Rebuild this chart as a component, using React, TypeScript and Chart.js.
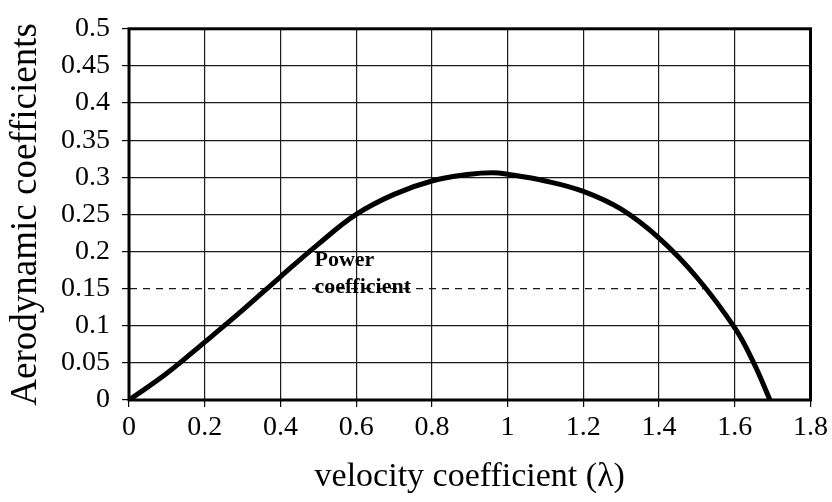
import React, { useEffect, useRef } from "react";
import { Chart, registerables } from "chart.js";

Chart.register(...registerables);

const lambdaValues = [0, 0.1, 0.2, 0.3, 0.4, 0.5, 0.6, 0.7, 0.8, 0.9, 0.96, 1.0, 1.1, 1.2, 1.3, 1.4, 1.5, 1.6, 1.65, 1.693];
const powerCoefficient = [0, 0.036, 0.078, 0.121, 0.166, 0.21, 0.25, 0.277, 0.295, 0.304, 0.306, 0.304, 0.295, 0.281, 0.257, 0.218, 0.165, 0.097, 0.05, 0];
const xTickLabels = ["0", "0.2", "0.4", "0.6", "0.8", "1", "1.2", "1.4", "1.6", "1.8"];
const yTickLabels = ["0", "0.05", "0.1", "0.15", "0.2", "0.25", "0.3", "0.35", "0.4", "0.45", "0.5"];
const xTitle = "velocity coefficient (λ)";
const yTitle = "Aerodynamic coefficients";
const annotationLines = ["Power", "coefficient"];
const annotationAt = { x: 0.49, y: 0.18 };

const FONT = "'Liberation Serif', 'Times New Roman', serif";

const framePlugin = {
  id: "frameAndLabel",
  afterDatasetsDraw(chart: any) {
    const { ctx, chartArea, scales } = chart;
    ctx.save();
    ctx.strokeStyle = "#000";
    ctx.lineWidth = 3;
    ctx.strokeRect(chartArea.left, chartArea.top, chartArea.right - chartArea.left, chartArea.bottom - chartArea.top);
    const px = scales.x.getPixelForValue(annotationAt.x);
    const py = scales.y.getPixelForValue(annotationAt.y);
    ctx.fillStyle = "#000";
    ctx.font = "bold 22px " + FONT;
    ctx.textAlign = "left";
    ctx.textBaseline = "alphabetic";
    annotationLines.forEach((t, i) => ctx.fillText(t, px, py + i * 27));
    ctx.restore();
  },
};

export default function App() {
  const ref = useRef<HTMLCanvasElement | null>(null);
  useEffect(() => {
    if (!ref.current) return;
    const chart = new Chart(ref.current, {
      type: "line",
      data: {
        datasets: [
          {
            label: "Power coefficient",
            data: lambdaValues.map((x, i) => ({ x, y: powerCoefficient[i] })),
            borderColor: "#000",
            borderWidth: 5,
            pointRadius: 0,
            tension: 0.4,
            fill: false,
          },
        ],
      },
      options: {
        animation: false,
        responsive: false,
        devicePixelRatio: 1,
        layout: { padding: { top: 21, right: 19, left: 0, bottom: 0 } },
        plugins: { legend: { display: false }, tooltip: { enabled: false } },
        scales: {
          x: {
            type: "linear",
            min: 0,
            max: 1.8,
            afterFit: (s: any) => { s.height = 102; },
            ticks: {
              stepSize: 0.2,
              color: "#000",
              font: { family: FONT, size: 28 },
              padding: 4,
              maxRotation: 0,
              callback: (_v: any, i: number) => xTickLabels[i],
            },
            grid: { color: "#1a1a1a", lineWidth: 1.2, tickLength: 7, tickColor: "#000" },
            border: { display: true, color: "#000", width: 1 },
            title: {
              display: true,
              text: xTitle,
              color: "#000",
              font: { family: FONT, size: 34 },
              padding: { top: 0, bottom: 5 },
            },
          },
          y: {
            type: "linear",
            min: 0,
            max: 0.5,
            afterFit: (s: any) => { s.width = 129; },
            ticks: {
              stepSize: 0.05,
              color: "#000",
              font: { family: FONT, size: 28 },
              padding: 12,
              callback: (_v: any, i: number) => yTickLabels[i],
            },
            grid: { color: "#1a1a1a", lineWidth: 1.2, tickLength: 7, tickColor: "#000" },
            border: {
              display: true,
              color: "#000",
              width: 1,
              dash: (c: any) => (c.tick && Math.abs(c.tick.value - 0.15) < 1e-6 ? [7, 6] : []),
            },
            title: {
              display: true,
              text: yTitle,
              color: "#000",
              font: { family: FONT, size: 37 },
              padding: { top: 4, bottom: 0 },
            },
          },
        },
      },
      plugins: [framePlugin],
    } as any);
    return () => chart.destroy();
  }, []);
  return (
    <div style={{ position: "fixed", left: 0, top: 0, width: 832, height: 502, background: "#fff" }}>
      <canvas ref={ref} width={832} height={502} />
    </div>
  );
}
